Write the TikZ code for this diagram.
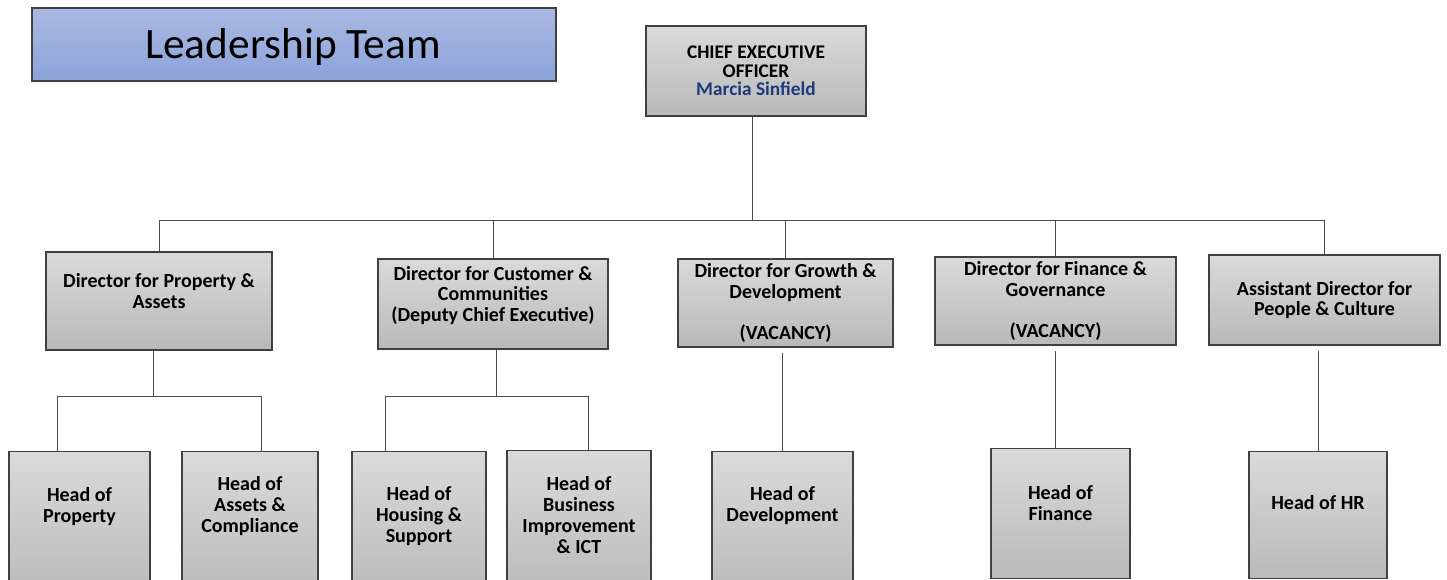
\documentclass[tikz,border=0pt]{standalone}
\usepackage{fontspec}
\setmainfont{Carlito}
\definecolor{boxtop}{HTML}{DADADA}
\definecolor{boxbot}{HTML}{B9B9B9}
\definecolor{titletop}{HTML}{AAB9E3}
\definecolor{titlebot}{HTML}{8CA3D9}
\definecolor{ceoname}{HTML}{1F3A7A}
\tikzset{
  orgbox/.style={draw=black!75, line width=0.8pt, top color=boxtop, bottom color=boxbot, inner sep=0pt},
  dirbox/.style={orgbox, align=center, font=\bfseries\fontsize{15}{15.5}\selectfont},
  headtext/.style={align=center, font=\bfseries\fontsize{15}{15.75}\selectfont},
  link/.style={draw=black!70, line width=0.6pt}
}
\begin{document}
\begin{tikzpicture}[x=0.75pt,y=-0.75pt]
  \useasboundingbox (0,0) rectangle (1447,580);

  % title and top of the chart
  \node[draw=black!75, line width=0.8pt, top color=titletop, bottom color=titlebot,
        minimum width=393pt, minimum height=54.75pt]
        (title) at (294,44.5) {};
  \node[font=\fontsize{32.5}{36}\selectfont] (titletext) at (293,47) {Leadership Team};
  \node[orgbox, minimum width=165pt, minimum height=67.5pt, align=center,
        font=\bfseries\fontsize{14.5}{14}\selectfont]
        (ceo) at (756,71) {CHIEF EXECUTIVE\\OFFICER\\\textcolor{ceoname}{Marcia Sinfield}};

  % directors
  \node[dirbox, minimum width=169.5pt,  minimum height=73.5pt] (d1) at (159,301)    {Director for Property \&\\Assets\\~};
  \node[dirbox, minimum width=172.5pt,  minimum height=67.5pt] (d2) at (493,304)    {Director for Customer \&\\Communities\\(Deputy Chief Executive)\\~};
  \node[dirbox, minimum width=161.25pt, minimum height=66pt]   (d3) at (785.5,303)  {Director for Growth \&\\Development\\~\\(VACANCY)};
  \node[dirbox, minimum width=180.75pt, minimum height=66pt]   (d4) at (1055.5,301) {Director for Finance \&\\Governance\\~\\(VACANCY)};
  \node[dirbox, minimum width=173.25pt, minimum height=67.5pt] (d5) at (1324.5,300) {Assistant Director for\\People \& Culture};

  % heads, boxes run off the bottom
  \node[orgbox, anchor=north, minimum width=105.75pt, minimum height=112pt]  (h1) at (79.5,451)   {};
  \node[orgbox, anchor=north, minimum width=102pt,    minimum height=112pt]  (h2) at (250,451)    {};
  \node[orgbox, anchor=north, minimum width=100.5pt,  minimum height=112pt]  (h3) at (419,451)    {};
  \node[orgbox, anchor=north, minimum width=108pt,    minimum height=112pt]  (h4) at (579,450)    {};
  \node[orgbox, anchor=north, minimum width=105.75pt, minimum height=112pt]  (h5) at (782.5,451)  {};
  \node[orgbox, anchor=north, minimum width=104.25pt, minimum height=97.5pt] (h6) at (1060.5,448) {};
  \node[orgbox, anchor=north, minimum width=103.5pt,  minimum height=95.25pt](h7) at (1318,451)   {};

  \node[headtext] (h1t) at (79.5,507)  {Head of\\Property};
  \node[headtext] (h2t) at (250,506)   {Head of\\Assets \&\\Compliance};
  \node[headtext] (h3t) at (419,516)   {Head of\\Housing \&\\Support};
  \node[headtext] (h4t) at (579,515)   {Head of\\Business\\Improvement\\\& ICT};
  \node[headtext] (h5t) at (782.5,506) {Head of\\Development};
  \node[headtext] (h6t) at (1060.5,503){Head of\\Finance};
  \node[headtext] (h7t) at (1318,503)  {Head of HR};

  % lines from the CEO down to the directors
  \coordinate (bus) at (752,220);
  \draw[link] (bus |- ceo.south) -- (bus);
  \draw[link] (d1.north |- bus) -- (d5.north |- bus);
  \foreach \n in {d1,d2,d3,d4,d5}
    \draw[link] (\n.north |- bus) -- (\n.north);

  % lines from the directors down to the heads
  \coordinate (b1) at (153,396);
  \coordinate (b1l) at (57,396);
  \coordinate (b1r) at (261,396);
  \draw[link] (b1 |- d1.south) -- (b1);
  \draw[link] (b1l) -- (b1r);
  \draw[link] (b1l) -- (b1l |- h1.north);
  \draw[link] (b1r) -- (b1r |- h2.north);

  \coordinate (b2) at (496,396);
  \coordinate (b2l) at (385,396);
  \coordinate (b2r) at (588,396);
  \draw[link] (b2 |- d2.south) -- (b2);
  \draw[link] (b2l) -- (b2r);
  \draw[link] (b2l) -- (b2l |- h3.north);
  \draw[link] (b2r) -- (b2r |- h4.north);

  \draw[link, shorten <=4pt] (h5.north |- d3.south) -- (h5.north);
  \draw[link, shorten <=4pt] (d4.south) -- (d4.south |- h6.north);
  \draw[link, shorten <=4pt] (h7.north |- d5.south) -- (h7.north);
\end{tikzpicture}
\end{document}
